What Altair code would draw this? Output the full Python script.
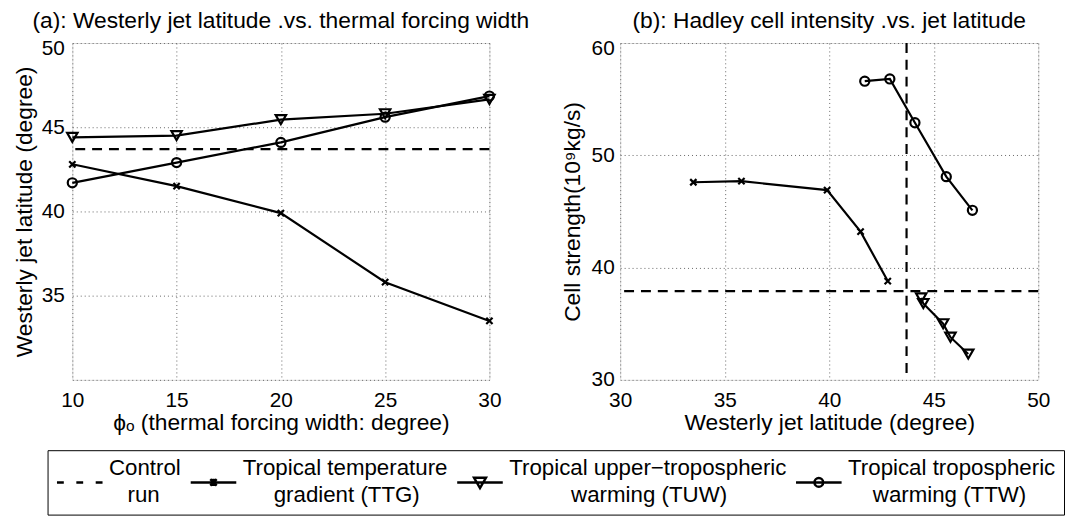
import altair as alt
import pandas as pd

# ---- data ----
phi = [10, 15, 20, 25, 30]
ttg_lat = [42.8, 41.5, 39.9, 35.8, 33.5]
tuw_lat = [44.4, 44.5, 45.45, 45.8, 46.65]
ttw_lat = [41.7, 42.9, 44.1, 45.6, 46.85]
ttg_cell = [38.8, 43.2, 46.9, 47.7, 47.6]
tuw_cell = [37.3, 36.8, 35.0, 33.8, 32.3]
ttw_cell = [56.6, 56.8, 52.9, 48.1, 45.1]
control_lat = 43.7
control_cell = 37.9

series_names = ["TTG", "TUW", "TTW"]
legend_line1 = ["Control", "Tropical temperature", "Tropical upper\u2212tropospheric", "Tropical tropospheric"]
legend_line2 = ["run", "gradient (TTG)", "warming (TUW)", "warming (TTW)"]

lat_x_ticks = [10, 15, 20, 25, 30]
lat_y_ticks = [30, 35, 40, 45, 50]
jet_x_ticks = [30, 35, 40, 45, 50]
cell_y_ticks = [30, 40, 50, 60]

# ---- centre the two legend lines on each other (approximate Arial advance widths) ----
_W = {"a": .556, "b": .556, "c": .5, "d": .556, "e": .556, "f": .278, "g": .556, "h": .556,
      "i": .222, "j": .222, "k": .5, "l": .222, "m": .833, "n": .556, "o": .556, "p": .556,
      "r": .333, "s": .5, "t": .278, "u": .556, "v": .5, "w": .722, "y": .5,
      "C": .722, "G": .778, "T": .611, "U": .722, "W": .944,
      " ": .278, "(": .333, ")": .333, "\u2212": .584}

def _width(s):
    return sum(_W.get(ch, .556) for ch in s)

def _centre(a, b):
    wa, wb = _width(a), _width(b)
    n = int(round(abs(wa - wb) / 2 / 0.278))
    pad = "\u200b" + "\u00a0" * n
    return (a, pad + b) if wa >= wb else (pad + a, b)

legend_labels = ["|".join(_centre(a, b)) for a, b in zip(legend_line1, legend_line2)]

# ---- tables ----
rows = []
for name, lats, cells in zip(series_names, [ttg_lat, tuw_lat, ttw_lat], [ttg_cell, tuw_cell, ttw_cell]):
    for p, la, ce in zip(phi, lats, cells):
        rows.append({"series": name, "phi": p, "lat": la, "cell": ce})
df = pd.DataFrame(rows)
ctrl = pd.DataFrame({"lat": [control_lat], "cell": [control_cell]})
leg_df = pd.DataFrame({"entry": legend_labels, "phi": [None] * 4, "lat": [None] * 4})

FONT = "Liberation Sans"
X_PATH = "M-1,-1L1,1M-1,1L1,-1"
marker_style = {
    "TTG": dict(shape=X_PATH, size=40),
    "TUW": dict(shape="triangle-down", size=110),
    "TTW": dict(shape="circle", size=85),
}

legend_paths = [
    "M-1,0L-0.7,0M-0.15,0L0.15,0M0.7,0L1,0",
    "M-1,0L1,0M-0.14,-0.14L0.14,0.14M-0.14,0.14L0.14,-0.14M0,-0.16L0,0.16",
    "M-1,0L1,0M-0.26,-0.2L0.26,-0.2L0,0.25Z",
    "M-1,0L1,0M-0.19,0A0.19,0.19,0,1,0,0.19,0A0.19,0.19,0,1,0,-0.19,0",
]

def axis(values, title, label_expr=None, title_pad=2, label_pad=8, top_val=None):
    kw = dict(values=values, title=title, grid=True, ticks=False, domain=False,
              labelFont=FONT, labelFontSize=21, labelColor="black",
              titleFont=FONT, titleFontSize=23, titleFontWeight="normal", titleColor="black",
              gridColor="#666666", gridDash=[1, 3], gridWidth=1,
              labelPadding=label_pad, titlePadding=title_pad,
              labelFlush=False, labelOverlap=False)
    if label_expr:
        kw["labelExpr"] = label_expr
    if top_val is not None:
        kw["labelOffset"] = {"condition": {"test": f"datum.value == {top_val}", "value": 6}, "value": 0}
    return alt.Axis(**kw)

def markers(xf, yf):
    layers = []
    for name in series_names:
        st = marker_style[name]
        layers.append(
            alt.Chart(df).transform_filter(alt.datum.series == name)
            .mark_point(shape=st["shape"], size=st["size"], color="black", filled=False, strokeWidth=2.2, opacity=1)
            .encode(x=xf, y=yf)
        )
    return layers

# ---- panel (a) ----
xa = alt.X("phi:Q", scale=alt.Scale(domain=[10, 30], nice=False, zero=False),
           axis=axis(lat_x_ticks, "\u03d5\u2092 (thermal forcing width: degree)", label_pad=10, title_pad=1))
ya = alt.Y("lat:Q", scale=alt.Scale(domain=[30, 50], nice=False, zero=False),
           axis=axis(lat_y_ticks, "Westerly jet latitude (degree)",
                     label_expr="datum.value == 30 ? '' : datum.label", title_pad=5, top_val=50))

ctrl_a = alt.Chart(ctrl).mark_rule(color="black", strokeWidth=2.2, strokeDash=[10, 7]).encode(y=alt.Y("lat:Q"))
lines_a = alt.Chart(df).mark_line(color="black", strokeWidth=2.2).encode(
    x=xa, y=ya, detail="series:N", order="phi:Q")
legend_layer = alt.Chart(leg_df).mark_point(color="black", filled=False).encode(
    x=alt.X("phi:Q"), y=alt.Y("lat:Q"),
    shape=alt.Shape("entry:N", scale=alt.Scale(domain=legend_labels, range=legend_paths),
                    legend=alt.Legend(
                        orient="none", legendX=-25, legendY=411, direction="horizontal", columns=4,
                        title=None, labelExpr="split(datum.label, '|')",
                        labelFont=FONT, labelFontSize=22.5, labelColor="black", labelLimit=500,
                        labelBaseline="line-bottom",
                        labelOffset=5, columnPadding=4, padding=8,
                        symbolSize=2116, symbolStrokeWidth=2.5, symbolStrokeColor="black",
                        symbolFillColor="transparent", symbolOpacity=1,
                        strokeColor="black",
                    )))

panel_a = alt.layer(lines_a, ctrl_a, *markers("phi:Q", "lat:Q"), legend_layer).properties(
    width=421, height=340,
    title=alt.TitleParams("(a): Westerly jet latitude .vs. thermal forcing width",
                          font=FONT, fontSize=23, fontWeight="normal", color="black", offset=5, anchor="middle"))

# ---- panel (b) ----
xb = alt.X("lat:Q", scale=alt.Scale(domain=[30, 50], nice=False, zero=False),
           axis=axis(jet_x_ticks, "Westerly jet latitude (degree)", label_pad=10, title_pad=1))
yb = alt.Y("cell:Q", scale=alt.Scale(domain=[30, 60], nice=False, zero=False),
           axis=axis(cell_y_ticks, "Cell strength(10\u2079kg/s)", title_pad=7, label_pad=6, top_val=60))

lines_b = alt.Chart(df).mark_line(color="black", strokeWidth=2.2).encode(
    x=xb, y=yb, detail="series:N", order="phi:Q")
ctrl_bh = alt.Chart(ctrl).mark_rule(color="black", strokeWidth=2.2, strokeDash=[10, 7]).encode(y=alt.Y("cell:Q"))
ctrl_bv = alt.Chart(ctrl).mark_rule(color="black", strokeWidth=2.2, strokeDash=[10, 7]).encode(x=alt.X("lat:Q"))

panel_b = alt.layer(lines_b, ctrl_bh, ctrl_bv, *markers("lat:Q", "cell:Q")).properties(
    width=422, height=340,
    title=alt.TitleParams("(b): Hadley cell intensity .vs. jet latitude",
                          font=FONT, fontSize=23, fontWeight="normal", color="black", offset=5, anchor="middle"))

chart = alt.hconcat(panel_a, panel_b, spacing=132, bounds="flush").resolve_scale(
    x="independent", y="independent"
).properties(
    padding={"left": 13, "top": 7, "right": 0, "bottom": 0},
    background="white",
).configure_view(stroke="black", strokeWidth=1.2).configure(
    style={"guide-label": {"lineHeight": 27}}
)

chart.save("out.html", embed_options={"renderer": "svg", "actions": False})
